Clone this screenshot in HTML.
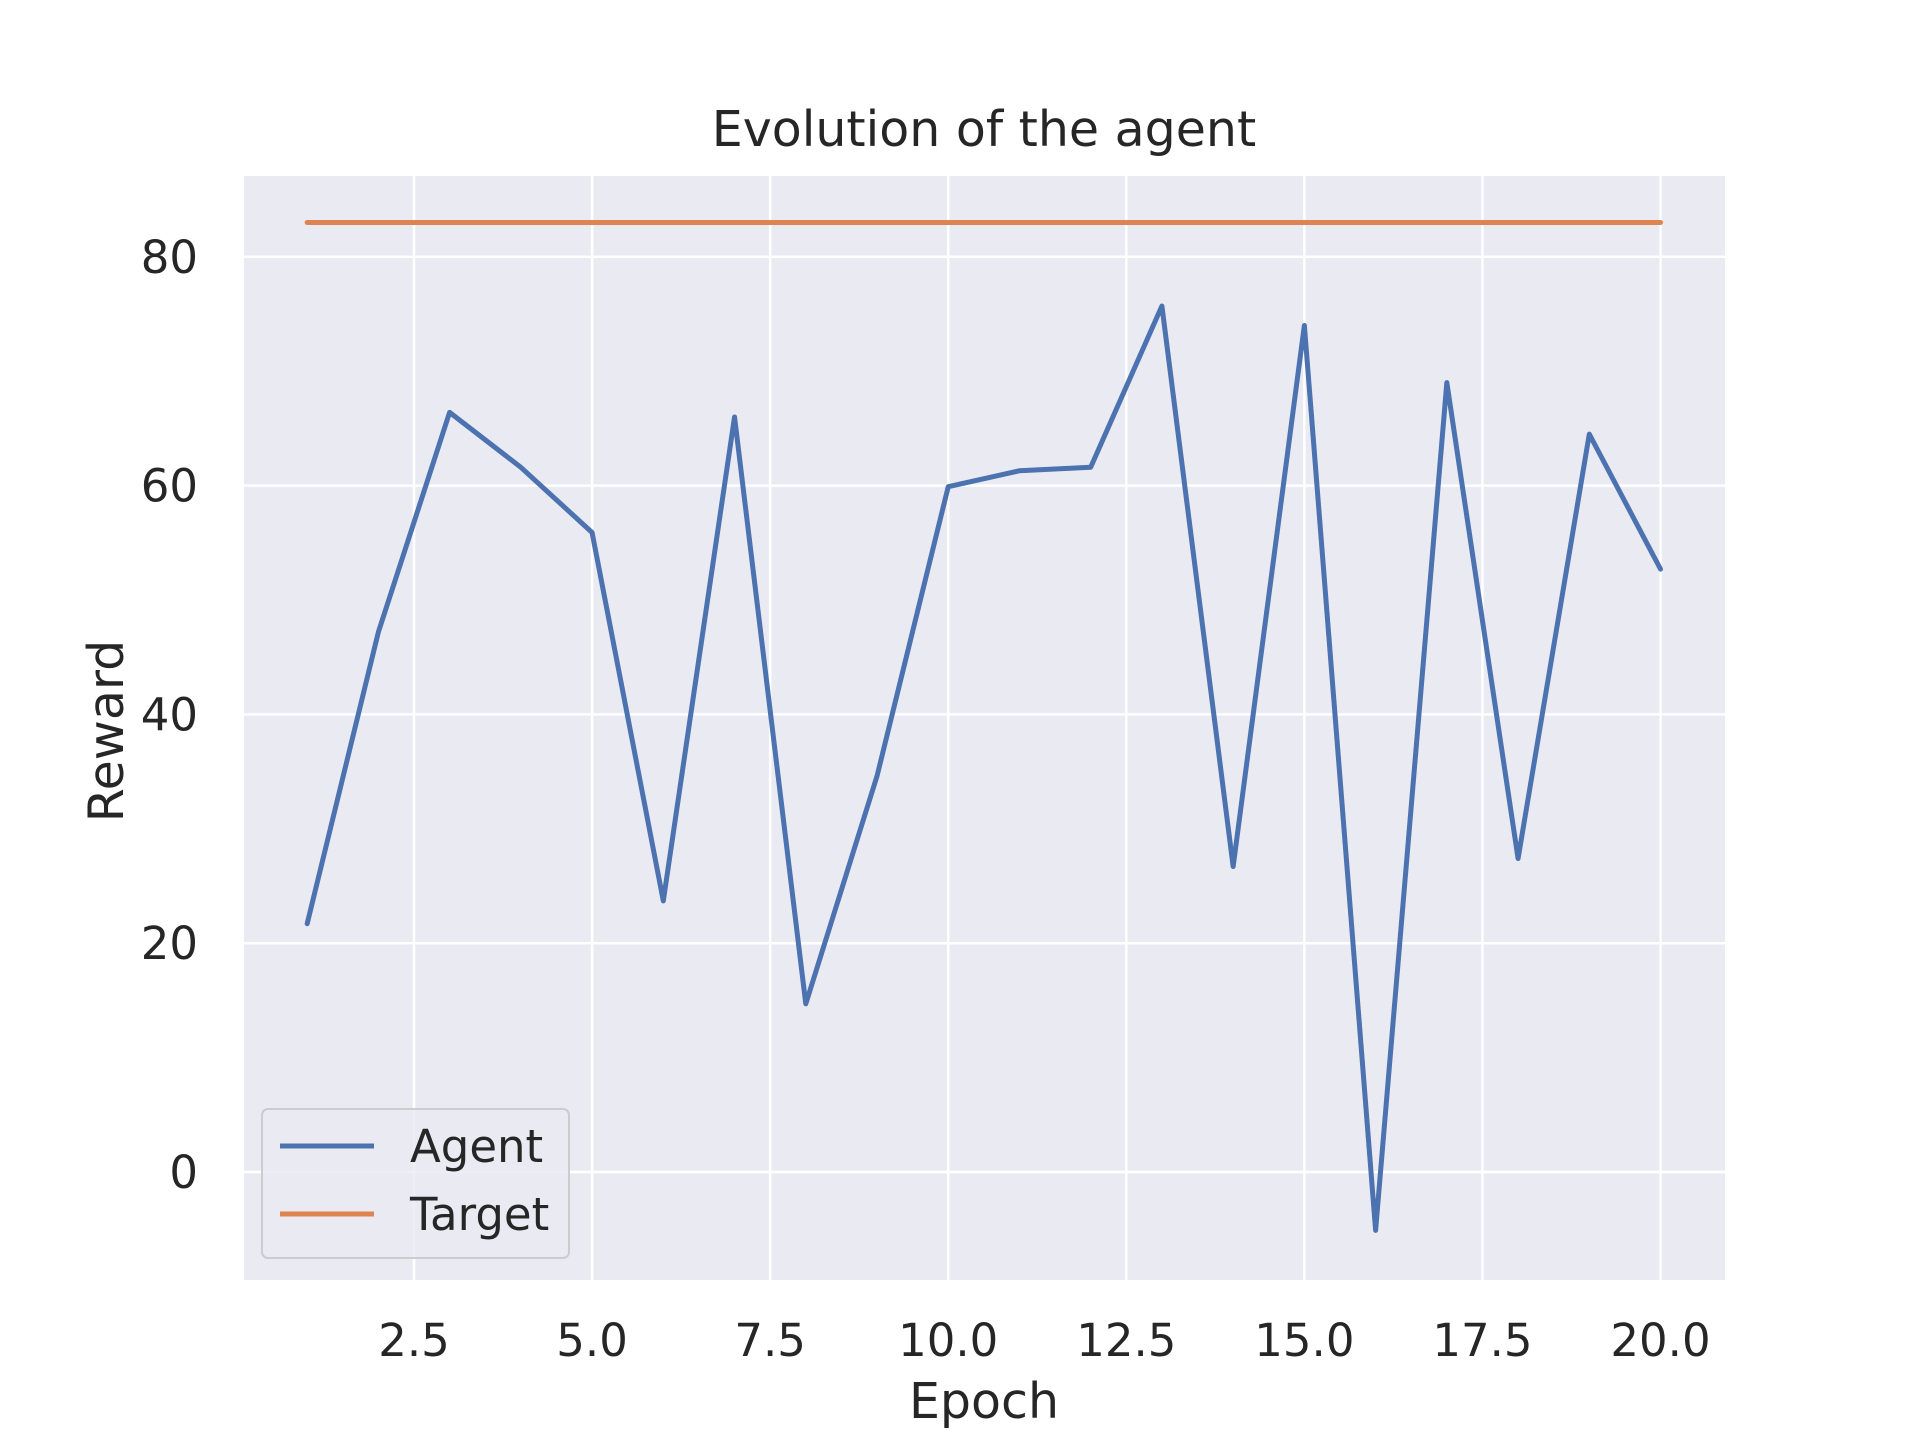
<!DOCTYPE html>
<html><head><meta charset="utf-8"><style>
html,body{margin:0;padding:0;background:#fff;}
svg{display:block;font-family:"DejaVu Sans","Liberation Sans",sans-serif;}
</style></head><body>
<svg id="chart" width="1920" height="1440" viewBox="0 0 1920 1440" xmlns="http://www.w3.org/2000/svg">
<rect x="244" y="176" width="1481" height="1104" fill="#eaeaf2"/>
<g id="grid"></g>
<g id="ticks"></g>
<g id="series"></g>
<text x="984" y="146" text-anchor="middle" font-size="49" fill="#262626">Evolution of the agent</text>
<text x="984" y="1418" text-anchor="middle" font-size="49" fill="#262626">Epoch</text>
<text transform="translate(123,731) rotate(-90)" text-anchor="middle" font-size="49" fill="#262626">Reward</text>
<g>
<rect x="262" y="1109" width="307" height="149" rx="6" fill="#eaeaf2" stroke="#cccccc" stroke-width="2" fill-opacity="0.8"/>
<line x1="280" y1="1146" x2="374" y2="1146" stroke="#4c72b0" stroke-width="5"/>
<text x="410" y="1162" font-size="45" fill="#262626">Agent</text>
<line x1="280" y1="1214" x2="374" y2="1214" stroke="#dd8452" stroke-width="5"/>
<text x="410" y="1230" font-size="45" fill="#262626">Target</text>
</g>
</svg>
<script>
const epochs=[1,2,3,4,5,6,7,8,9,10,11,12,13,14,15,16,17,18,19,20];
const agentRewards=[21.7,47.2,66.4,61.6,55.9,23.7,66.0,14.7,34.6,59.9,61.3,61.6,75.7,26.7,74.0,-5.1,69.0,27.4,64.5,52.7];
const targetRewards=[83,83,83,83,83,83,83,83,83,83,83,83,83,83,83,83,83,83,83,83];
const xTicks=[2.5,5.0,7.5,10.0,12.5,15.0,17.5,20.0];
const xTickLabels=["2.5","5.0","7.5","10.0","12.5","15.0","17.5","20.0"];
const yTicks=[0,20,40,60,80];
const yTickLabels=["0","20","40","60","80"];
const NS="http://www.w3.org/2000/svg";
function xs(v){return 414+(v-2.5)*71.23;}
function ys(v){return 1172-v*11.44;}
function mk(tag,attrs,parent){const e=document.createElementNS(NS,tag);for(const k in attrs)e.setAttribute(k,attrs[k]);parent.appendChild(e);return e;}
const grid=document.getElementById('grid'),ticks=document.getElementById('ticks'),series=document.getElementById('series');
xTicks.forEach((t,i)=>{
 const l=mk('line',{x1:xs(t),x2:xs(t),y1:176,y2:1280,stroke:'#fff','stroke-width':2.5},grid);
 
 
 const tx=mk('text',{x:xs(t),y:1356,'text-anchor':'middle','font-size':45,fill:'#262626'},ticks);
 tx.textContent=xTickLabels[i];
 
 
});
yTicks.forEach((t,i)=>{
 const l=mk('line',{x1:244,x2:1725,y1:ys(t),y2:ys(t),stroke:'#fff','stroke-width':2.5},grid);
 
 
 const tx=mk('text',{x:198,y:ys(t)+16,'text-anchor':'end','font-size':45,fill:'#262626'},ticks);
 tx.textContent=yTickLabels[i];
 
 
});
function line(vals,color,name){
 const p=mk('polyline',{points:epochs.map((e,i)=>xs(e)+','+ys(vals[i])).join(' '),fill:'none',stroke:color,'stroke-width':5,'stroke-linejoin':'round','stroke-linecap':'round'},series);
 
 
}
line(agentRewards,'#4c72b0','agent-line');
line(targetRewards,'#dd8452','target-line');
</script>
</body></html>
